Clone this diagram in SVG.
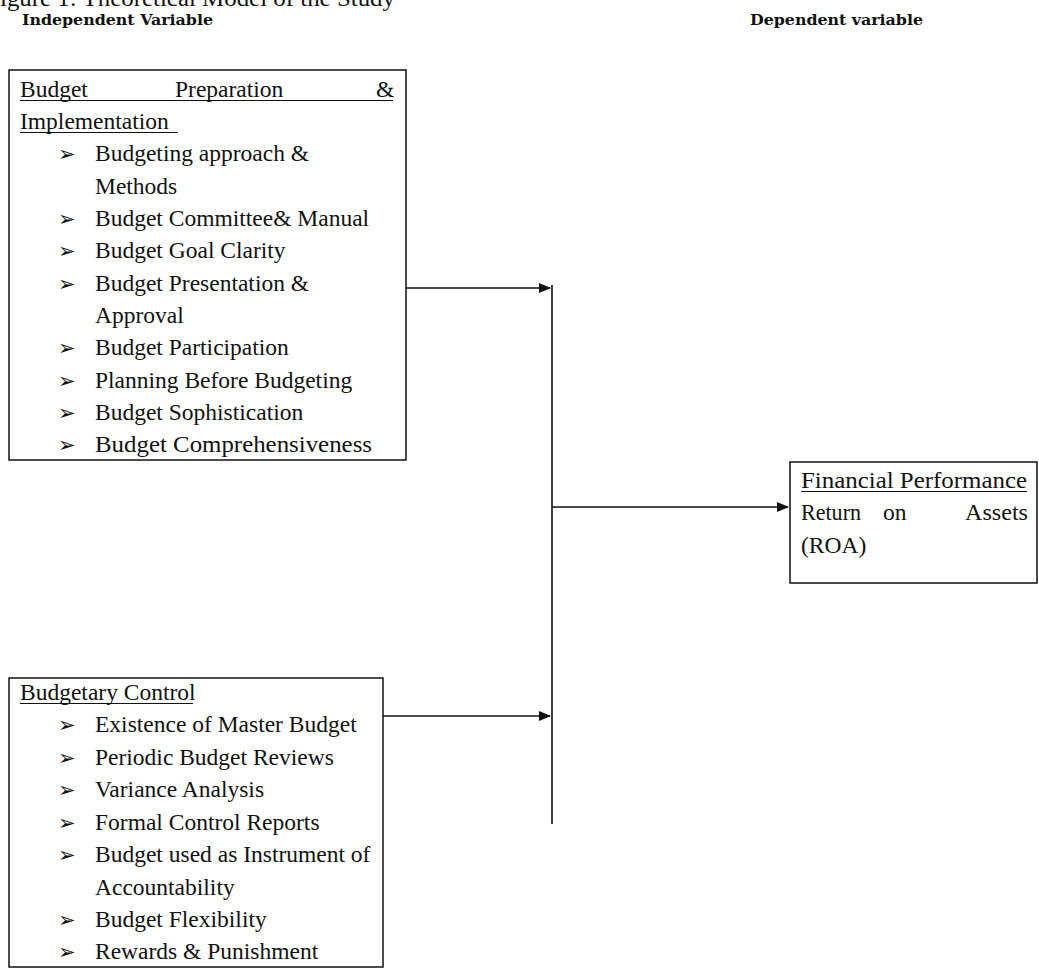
<svg xmlns="http://www.w3.org/2000/svg" width="1039" height="970" viewBox="0 0 1039 970">
<defs>
<style>
.t{font-family:"Liberation Serif","Times New Roman",serif;font-size:23.5px;fill:#111}
.h{font-family:"DejaVu Serif","Liberation Serif",serif;font-weight:bold;font-size:14.5px;fill:#111}
.b{font-family:"DejaVu Sans","Liberation Sans",sans-serif;font-size:21px;fill:#111}
.box{fill:#fff;stroke:#111;stroke-width:1.5}
.u{stroke:#111;stroke-width:1.2}
.c{stroke:#111;stroke-width:1.6;fill:none}
</style>
<marker id="ah" markerWidth="12" markerHeight="10" refX="11" refY="5" orient="auto" markerUnits="userSpaceOnUse">
<path d="M0,0 L12,5 L0,10 Z" fill="#111"/>
</marker>
</defs>
<rect width="1039" height="970" fill="#fff"/>
<text class="t" x="0" y="6" textLength="395" lengthAdjust="spacingAndGlyphs" font-size="24">igure 1: Theoretical Model of the Study</text>
<text class="h" x="22" y="25" textLength="191" lengthAdjust="spacingAndGlyphs">Independent Variable</text>
<text class="h" x="750" y="25" textLength="173" lengthAdjust="spacingAndGlyphs">Dependent variable</text>

<g id="connectors">
<line class="c" x1="406" y1="288" x2="550" y2="288" marker-end="url(#ah)"/>
<line class="c" x1="383" y1="716" x2="550" y2="716" marker-end="url(#ah)"/>
<line class="c" x1="552" y1="285" x2="552" y2="824"/>
<line class="c" x1="552" y1="507" x2="788" y2="507" marker-end="url(#ah)"/>
</g>

<g id="node-budget-preparation">
<rect class="box" x="9" y="70" width="397" height="390"/>
<text class="t" x="20" y="97">Budget</text>
<text class="t" x="175" y="97">Preparation</text>
<text class="t" x="376" y="97">&amp;</text>
<line class="u" x1="20" y1="100.5" x2="393" y2="100.5"/>
<text class="t" x="20" y="129">Implementation</text>
<line class="u" x1="20" y1="132.5" x2="178" y2="132.5"/>
<g class="b">
<text x="58" y="161">➢</text>
<text x="58" y="226">➢</text>
<text x="58" y="258">➢</text>
<text x="58" y="291">➢</text>
<text x="58" y="355">➢</text>
<text x="58" y="388">➢</text>
<text x="58" y="420">➢</text>
<text x="58" y="452">➢</text>
</g>
<text class="t" x="95" y="161">Budgeting approach &amp;</text>
<text class="t" x="95" y="193.5">Methods</text>
<text class="t" x="95" y="226">Budget Committee&amp; Manual</text>
<text class="t" x="95" y="258">Budget Goal Clarity</text>
<text class="t" x="95" y="291">Budget Presentation &amp;</text>
<text class="t" x="95" y="323">Approval</text>
<text class="t" x="95" y="355">Budget Participation</text>
<text class="t" x="95" y="388">Planning Before Budgeting</text>
<text class="t" x="95" y="420">Budget Sophistication</text>
<text class="t" x="95" y="452" textLength="277" lengthAdjust="spacingAndGlyphs">Budget Comprehensiveness</text>
</g>

<g id="node-budgetary-control">
<rect class="box" x="9" y="678" width="374" height="289"/>
<text class="t" x="20" y="700">Budgetary Control</text>
<line class="u" x1="20" y1="703.5" x2="193" y2="703.5"/>
<g class="b">
<text x="58" y="732">➢</text>
<text x="58" y="765">➢</text>
<text x="58" y="797">➢</text>
<text x="58" y="830">➢</text>
<text x="58" y="862">➢</text>
<text x="58" y="927">➢</text>
<text x="58" y="959">➢</text>
</g>
<text class="t" x="95" y="732">Existence of Master Budget</text>
<text class="t" x="95" y="765">Periodic Budget Reviews</text>
<text class="t" x="95" y="797">Variance Analysis</text>
<text class="t" x="95" y="830">Formal Control Reports</text>
<text class="t" x="95" y="862">Budget used as Instrument of</text>
<text class="t" x="95" y="894.5">Accountability</text>
<text class="t" x="95" y="927">Budget Flexibility</text>
<text class="t" x="95" y="959">Rewards &amp; Punishment</text>
</g>

<g id="node-financial-performance">
<rect class="box" x="790" y="462" width="247" height="121"/>
<text class="t" x="801" y="488" textLength="226" lengthAdjust="spacingAndGlyphs">Financial Performance</text>
<line class="u" x1="801" y1="491.5" x2="1027" y2="491.5"/>
<text class="t" x="801" y="520" textLength="60" lengthAdjust="spacingAndGlyphs">Return</text>
<text class="t" x="883" y="520">on</text>
<text class="t" x="965" y="520" textLength="63" lengthAdjust="spacingAndGlyphs">Assets</text>
<text class="t" x="801" y="553">(ROA)</text>
</g>
</svg>
